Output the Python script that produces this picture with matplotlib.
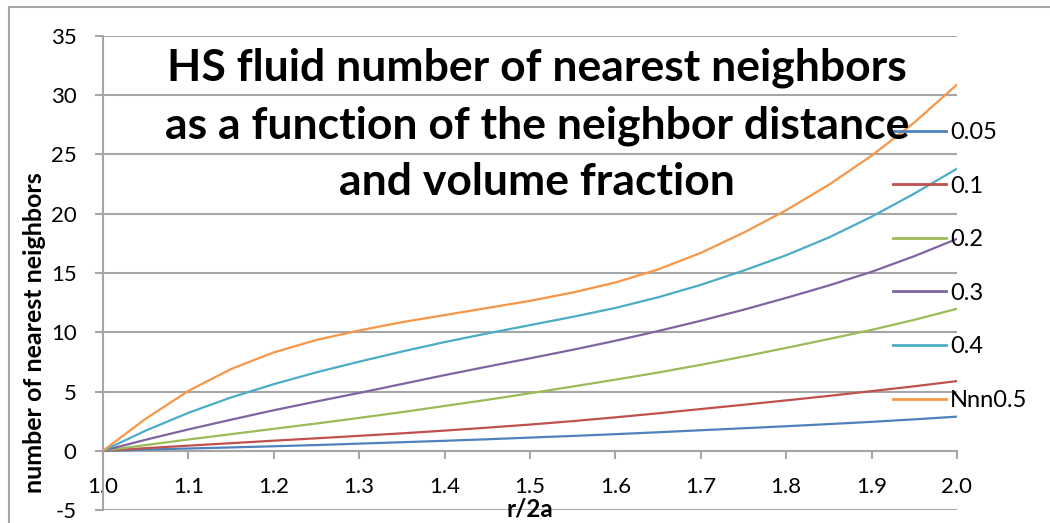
import matplotlib
matplotlib.use("Agg")
import matplotlib.pyplot as plt
from matplotlib.patches import Rectangle

plt.rcParams['font.family'] = ['Lato', 'DejaVu Sans']

# r/2a values
x = [1.00, 1.05, 1.10, 1.15, 1.20, 1.25, 1.30, 1.35, 1.40, 1.45, 1.50,
     1.55, 1.60, 1.65, 1.70, 1.75, 1.80, 1.85, 1.90, 1.95, 2.00]

s005 = [0, 0.10, 0.19, 0.28, 0.38, 0.48, 0.60, 0.72, 0.84, 0.97, 1.11,
        1.25, 1.40, 1.56, 1.73, 1.90, 2.07, 2.25, 2.44, 2.65, 2.88]
s01 = [0, 0.22, 0.43, 0.64, 0.85, 1.05, 1.26, 1.47, 1.70, 1.95, 2.21,
       2.50, 2.82, 3.16, 3.52, 3.88, 4.25, 4.63, 5.03, 5.44, 5.88]
s02 = [0, 0.48, 0.95, 1.40, 1.85, 2.30, 2.77, 3.26, 3.78, 4.30, 4.85,
       5.42, 6.00, 6.60, 7.25, 7.95, 8.68, 9.43, 10.20, 11.05, 11.98]
s03 = [0, 0.93, 1.80, 2.62, 3.42, 4.16, 4.88, 5.63, 6.38, 7.10, 7.80,
       8.52, 9.28, 10.10, 10.97, 11.90, 12.90, 13.95, 15.10, 16.42, 17.88]
s04 = [0, 1.70, 3.20, 4.50, 5.62, 6.62, 7.52, 8.37, 9.17, 9.90, 10.60,
       11.30, 12.05, 12.95, 14.00, 15.20, 16.50, 18.00, 19.75, 21.70, 23.80]
s05 = [0, 2.70, 5.05, 6.90, 8.30, 9.35, 10.15, 10.85, 11.45, 12.05, 12.65,
       13.35, 14.20, 15.30, 16.70, 18.40, 20.30, 22.45, 24.90, 27.70, 30.90]

labels = ['0.05', '0.1', '0.2', '0.3', '0.4', 'Nnn0.5']
colors = ['#4F81BD', '#C0504D', '#9BBB59', '#8064A2', '#4BACC6', '#F79646']
series = [s005, s01, s02, s03, s04, s05]

xticks = [1.0, 1.1, 1.2, 1.3, 1.4, 1.5, 1.6, 1.7, 1.8, 1.9, 2.0]
yticks = [-5, 0, 5, 10, 15, 20, 25, 30, 35]

W, H = 1050, 523
fig = plt.figure(figsize=(W / 100, H / 100), dpi=100)
ax = fig.add_axes([103 / W, 1 - 510 / H, 854 / W, (510 - 36) / H])

grid_c = '#a6a6a6'
for yv in yticks:
    ax.axhline(yv, color=grid_c, lw=1.5, zorder=1)

for s, c, lab in zip(series, colors, labels):
    ax.plot(x, s, color=c, lw=1.6, label=lab, zorder=3,
            solid_joinstyle='round')

ax.set_xlim(1.0, 2.0)
ax.set_ylim(-5, 35)
ax.set_xticks(xticks)
ax.set_xticklabels([f"{v:.1f}" for v in xticks])
ax.set_yticks(yticks)
ax.set_yticklabels([str(v) for v in yticks])

for sp in ['top', 'right']:
    ax.spines[sp].set_visible(False)
ax.spines['left'].set_color(grid_c)
ax.spines['left'].set_linewidth(1.5)
ax.spines['bottom'].set_position(('data', 0))
ax.spines['bottom'].set_color(grid_c)
ax.spines['bottom'].set_linewidth(1.5)
ax.spines['bottom'].set_zorder(2)

ax.tick_params(axis='y', direction='out', length=6, width=1.5, color=grid_c,
               labelsize=16, pad=13)
ax.tick_params(axis='x', direction='out', length=6, width=1.5, color=grid_c,
               labelsize=16, pad=13)

fig.text(35 / W, 1 - 333 / H, 'number of nearest neighbors', rotation=90,
         ha='center', va='center', fontsize=18, fontweight='bold')
fig.text(530 / W, 1 - 509 / H, 'r/2a', ha='center', va='center',
         fontsize=17.5, fontweight='bold')

fig.text(537 / W, 1 - 125 / H,
         'HS fluid number of nearest neighbors\nas a function of the neighbor distance\nand volume fraction',
         ha='center', va='center', fontsize=32, fontweight='bold',
         linespacing=1.5, zorder=5)

leg = ax.legend(loc='upper left', bbox_to_anchor=(893 / W, 1 - 122 / H),
                bbox_transform=fig.transFigure, frameon=False, fontsize=17,
                handlelength=2.25, handletextpad=0.17, labelspacing=1.38,
                borderpad=0, borderaxespad=0)
for line in leg.get_lines():
    line.set_linewidth(2.0)

fig.add_artist(Rectangle((9 / W, -0.1), 1.2, (1 - 7 / H) + 0.1,
                         transform=fig.transFigure, fill=False,
                         edgecolor='#a6a6a6', lw=1.5))

fig.savefig('out.png', dpi=100)
